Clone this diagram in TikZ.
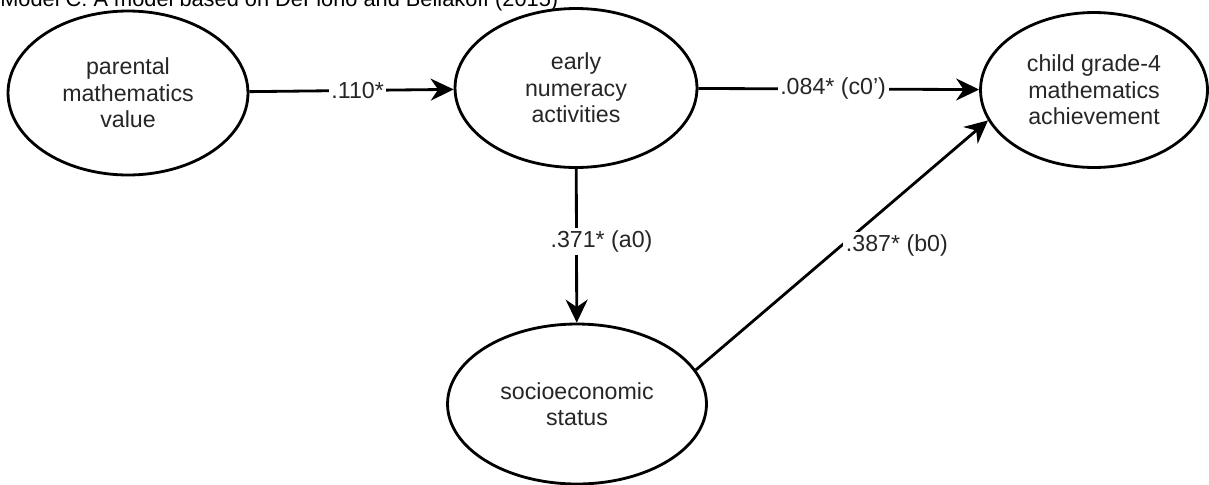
\documentclass[tikz,border=0pt]{standalone}
\usepackage{fontspec}
\setmainfont{Liberation Sans}
\usetikzlibrary{arrows.meta, shapes.geometric}

\begin{document}
\begin{tikzpicture}[
  x=0.02cm, y=-0.02cm,
  arrow/.style={-{Stealth[length=0.46cm, width=0.44cm]}, line width=1.6pt},
  latent_box/.style={draw, ellipse, line width=1.6pt, inner sep=0pt, align=center, text=black!85, font=\fontsize{13.2}{15}\selectfont},
  coef_label/.style={fill=white, inner sep=1.5pt, text=black!85, font=\fontsize{13.2}{15}\selectfont}
]
  \useasboundingbox (0,0) rectangle (1209,484);
  \clip (0,0) rectangle (1209,484);

  % Title (cut off at the top edge)
  \node (title) [anchor=base west, inner sep=0pt, font=\fontsize{12.4}{15}\selectfont] at (0,6) {Model C: A model based on DeFlorio and Beliakoff (2015)};

  % Variables
  \node (parent) [latent_box, minimum width=4.8cm, minimum height=3.28cm] at (128, 93) {parental\\ mathematics\\ value};
  \node (early) [latent_box, minimum width=4.84cm, minimum height=3.18cm] at (576, 88) {early\\ numeracy\\ activities};
  \node (child) [latent_box, minimum width=4.54cm, minimum height=3.1cm] at (1094, 90) {child grade-4\\ mathematics\\ achievement};
  \node (socio) [latent_box, minimum width=5.18cm, minimum height=3.2cm] at (577, 404) {socioeconomic\\ status};

  % Connections
  \draw[arrow] (parent) -- (early) node[coef_label, pos=0.53] {.110*};
  \draw[arrow] (early) -- (child) node[coef_label, pos=0.48] {.084* (c0')};
  \draw[arrow] (early) -- (socio) node[coef_label, pos=0.47, xshift=0.5cm] {.371* (a0)};
  \draw[arrow] (socio.16) -- (child.196) node[coef_label, pos=0.5, anchor=west] {.387* (b0)};

\end{tikzpicture}
\end{document}
